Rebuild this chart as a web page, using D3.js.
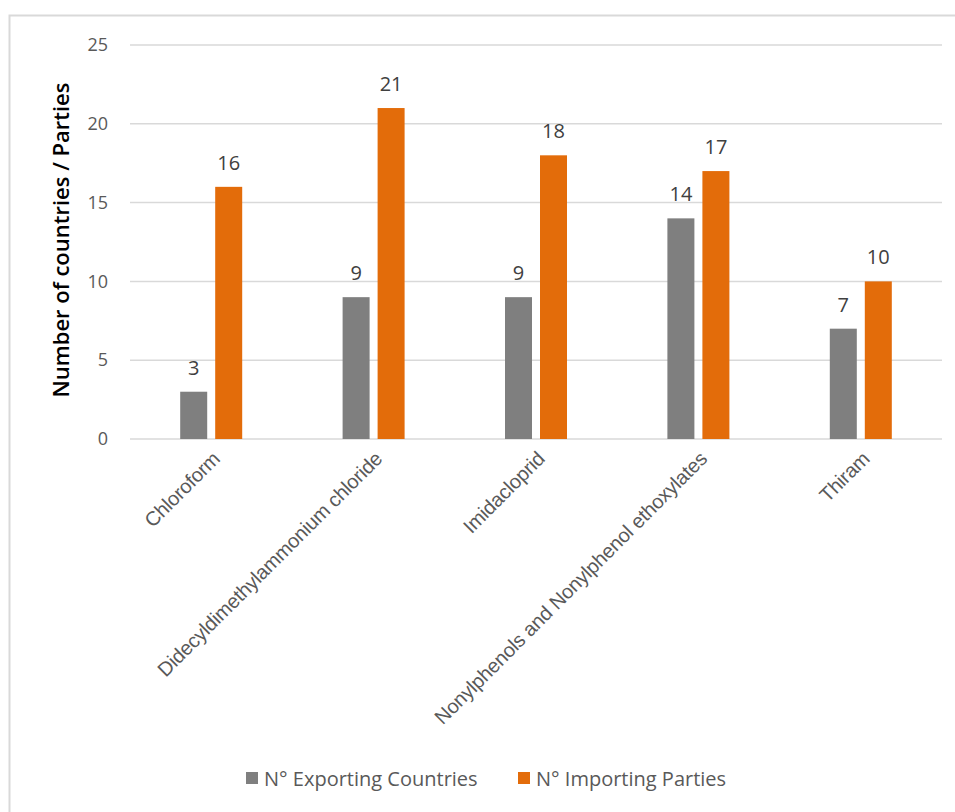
<!DOCTYPE html>
<html><head><meta charset="utf-8">
<script src="https://cdn.jsdelivr.net/npm/d3@7"></script>
<style>body{margin:0;background:#fff;} svg{display:block;}</style>
</head><body>
<svg id="chart" width="955" height="812"></svg>
<script>
const categories = ["Chloroform","Didecyldimethylammonium chloride","Imidacloprid","Nonylphenols and Nonylphenol ethoxylates","Thiram"];
const exporting = [3, 9, 9, 14, 7];
const importing = [16, 21, 18, 17, 10];
const seriesNames = ["N° Exporting Countries","N° Importing Parties"];
const seriesColors = ["#7f7f7f","#e36c0a"];
const yTicks = [0,5,10,15,20,25];

(function(){
const svg = d3.select("#chart");
svg.append("rect").attr("x",9.5).attr("y",15.5).attr("width",960).attr("height",820)
  .attr("fill","none").attr("stroke","#d9d9d9").attr("stroke-width",2);

const pL=130, pR=942, pT=45, pB=439;
const x = d3.scaleBand().domain(categories).range([pL,pR]);
const y = d3.scaleLinear().domain([0,25]).range([pB,pT]);

svg.append("g").selectAll("line").data(yTicks).join("line")
  .attr("x1",pL).attr("x2",pR).attr("y1",d=>y(d)).attr("y2",d=>y(d))
  .attr("stroke","#d9d9d9").attr("stroke-width",1.5);

const yAxis = d3.axisLeft(y).tickValues(yTicks).tickSize(0).tickPadding(0);
const gy = svg.append("g").attr("transform",`translate(${pL-22},0)`).call(yAxis);
gy.select(".domain").remove();
gy.selectAll("text").attr("font-family","'Open Sans', sans-serif").attr("font-size","18px").attr("fill","#595959");

svg.append("text").attr("transform","translate(69,240) rotate(-90)")
  .attr("text-anchor","middle").attr("font-family","'Open Sans', sans-serif").attr("font-size","22px")
  .attr("font-weight","600").attr("fill","#000").text("Number of countries / Parties");

const barW = 27, gap = 8;
[exporting, importing].forEach((vals,si)=>{
  const off = si===0 ? -gap/2-barW : gap/2;
  svg.append("g").selectAll("rect").data(vals).join("rect")
    .attr("x",(d,i)=>x(categories[i])+x.bandwidth()/2+off)
    .attr("y",d=>y(d)).attr("width",barW).attr("height",d=>y(0)-y(d))
    .attr("fill",seriesColors[si]);
  svg.append("g").selectAll("text").data(vals).join("text")
    .attr("x",(d,i)=>x(categories[i])+x.bandwidth()/2+off+barW/2)
    .attr("y",d=>y(d)-17).attr("text-anchor","middle")
    .attr("font-family","'Open Sans', sans-serif").attr("font-size","20px").attr("fill","#404040")
    .text(d=>d);
});

svg.append("g").selectAll("text").data(categories).join("text")
  .attr("transform",d=>`translate(${x(d)+x.bandwidth()/2+10},${pB+21}) rotate(-45)`)
  .attr("text-anchor","end").attr("font-family","'Liberation Sans', Arial, sans-serif")
  .attr("font-size","20px").attr("letter-spacing","-0.2px").attr("fill","#595959").text(d=>d);

const legX = [246, 518];
seriesNames.forEach((n,i)=>{
  svg.append("rect").attr("x",legX[i]).attr("y",772).attr("width",12).attr("height",12).attr("fill",seriesColors[i]);
  svg.append("text").attr("x",legX[i]+18).attr("y",786).attr("font-family","'Open Sans', sans-serif")
    .attr("font-size","20px").attr("fill","#595959").text(n);
});
})();
</script>
</body></html>
